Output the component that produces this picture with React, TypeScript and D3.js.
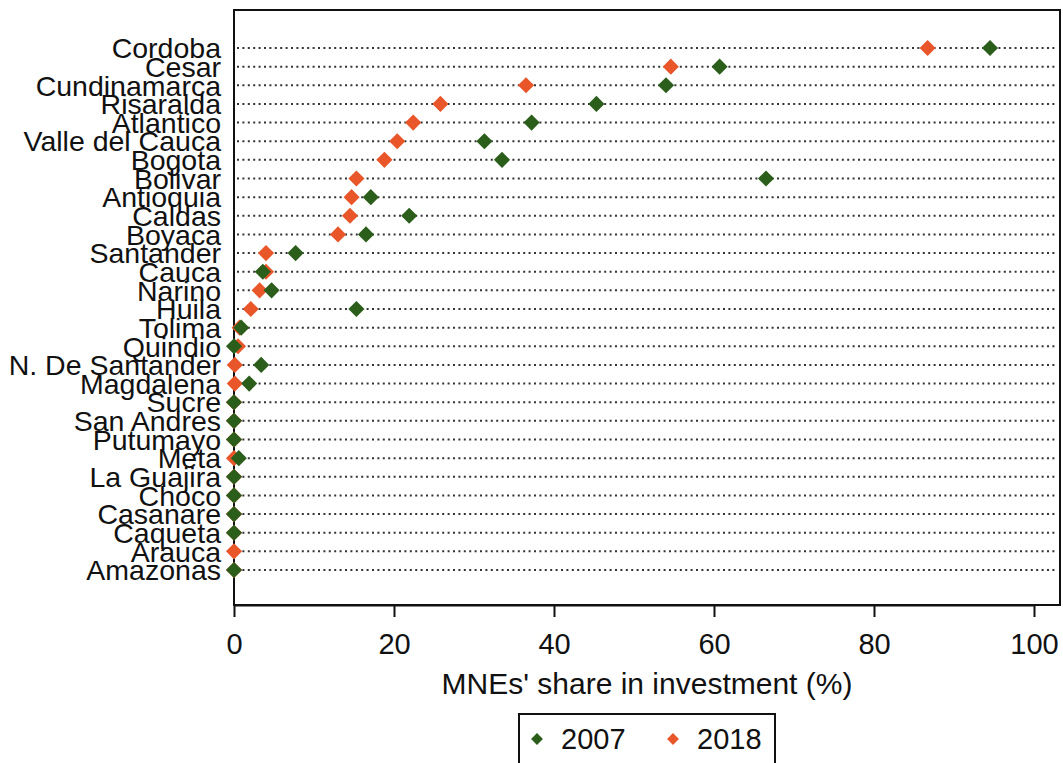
import React, { useEffect, useRef } from "react";
import * as d3 from "d3";

const regions = [
  "Cordoba", "Cesar", "Cundinamarca", "Risaralda", "Atlantico", "Valle del Cauca",
  "Bogota", "Bolivar", "Antioquia", "Caldas", "Boyaca", "Santander", "Cauca",
  "Narino", "Huila", "Tolima", "Quindio", "N. De Santander", "Magdalena", "Sucre",
  "San Andres", "Putumayo", "Meta", "La Guajira", "Choco", "Casanare", "Caqueta",
  "Arauca", "Amazonas",
];

const share2007 = [
  94.5, 60.7, 54.0, 45.3, 37.2, 31.3, 33.5, 66.5, 17.1, 21.9, 16.5, 7.7, 3.6,
  4.7, 15.3, 0.9, 0, 3.4, 1.9, 0, 0, 0, 0.6, 0, 0, 0, 0, null, 0,
];

const share2018 = [
  86.7, 54.6, 36.5, 25.8, 22.4, 20.4, 18.8, 15.3, 14.7, 14.5, 13.0, 4.0, 4.0,
  3.2, 2.1, 0.7, 0.5, 0.1, 0.1, 0, 0, 0, 0, 0, 0, 0, 0, 0, 0,
];

const xTicks = [0, 20, 40, 60, 80, 100];
const seriesNames = ["2007", "2018"];

const GREEN = "#2b5d1b";
const ORANGE = "#e8562a";
const FONT = "'Liberation Sans', Arial, sans-serif";

export default function App() {
  const ref = useRef<SVGSVGElement>(null);

  useEffect(() => {
    const svg = d3.select(ref.current);
    svg.selectAll("*").remove();

    const box = { left: 234, right: 1060, top: 10, bottom: 605 };

    const x = d3.scaleLinear().domain([0, 100]).range([234, 1034]);
    const y = d3.scalePoint<string>().domain(regions).range([48, 570]);

    const diamond = d3.symbol().type(d3.symbolSquare).size(130)();

    // dotted guide lines
    svg.append("g")
      .selectAll("line")
      .data(regions)
      .join("line")
      .attr("x1", box.left + 3)
      .attr("x2", box.right - 4)
      .attr("y1", d => y(d)!)
      .attr("y2", d => y(d)!)
      .attr("stroke", "#333")
      .attr("stroke-width", 2)
      .attr("stroke-dasharray", "2 3.4");

    // plot region border
    svg.append("rect")
      .attr("x", box.left)
      .attr("y", box.top)
      .attr("width", box.right - box.left)
      .attr("height", box.bottom - box.top)
      .attr("fill", "none")
      .attr("stroke", "#111")
      .attr("stroke-width", 2);

    // category labels
    svg.append("g")
      .selectAll("text")
      .data(regions)
      .join("text")
      .attr("x", 221)
      .attr("y", d => y(d)!)
      .attr("dy", "0.36em")
      .attr("text-anchor", "end")
      .attr("font-family", FONT)
      .attr("font-size", 28.5)
      .attr("fill", "#111")
      .text(d => d);

    // x axis
    const ax = svg.append("g")
      .attr("transform", `translate(0, ${box.bottom})`)
      .call(d3.axisBottom(x).tickValues(xTicks).tickSize(12).tickSizeOuter(0).tickPadding(16));
    ax.select(".domain").attr("stroke", "#111").attr("stroke-width", 2);
    ax.selectAll(".tick line").attr("stroke", "#111").attr("stroke-width", 2);
    ax.selectAll(".tick text")
      .attr("font-family", FONT)
      .attr("font-size", 29)
      .attr("fill", "#111");

    svg.append("text")
      .attr("x", (box.left + box.right) / 2)
      .attr("y", 694)
      .attr("text-anchor", "middle")
      .attr("font-family", FONT)
      .attr("font-size", 30)
      .attr("fill", "#111")
      .text("MNEs' share in investment (%)");

    // markers: 2018 underneath, 2007 on top
    const pts = (vals: (number | null)[]) =>
      regions.map((r, i) => ({ r, v: vals[i] })).filter(d => d.v !== null);

    svg.append("g")
      .selectAll("path")
      .data(pts(share2018))
      .join("path")
      .attr("d", diamond)
      .attr("transform", d => `translate(${x(d.v!)}, ${y(d.r)}) rotate(45)`)
      .attr("fill", ORANGE);

    svg.append("g")
      .selectAll("path")
      .data(pts(share2007))
      .join("path")
      .attr("d", diamond)
      .attr("transform", d => `translate(${x(d.v!)}, ${y(d.r)}) rotate(45)`)
      .attr("fill", GREEN);

    // legend
    const lg = svg.append("g");
    lg.append("rect")
      .attr("x", 519)
      .attr("y", 714)
      .attr("width", 256)
      .attr("height", 70)
      .attr("fill", "#fff")
      .attr("stroke", "#111")
      .attr("stroke-width", 2);
    const small = d3.symbol().type(d3.symbolSquare).size(70)();
    const colors = [GREEN, ORANGE];
    const lx = [537, 673];
    seriesNames.forEach((name, i) => {
      lg.append("path")
        .attr("d", small)
        .attr("transform", `translate(${lx[i]}, 739) rotate(45)`)
        .attr("fill", colors[i]);
      lg.append("text")
        .attr("x", lx[i] + 24)
        .attr("y", 749)
        .attr("font-family", FONT)
        .attr("font-size", 29)
        .attr("fill", "#111")
        .text(name);
    });
  }, []);

  return (
    <svg
      ref={ref}
      width={1063}
      height={763}
      style={{ position: "absolute", left: 0, top: 0, background: "#fff" }}
    />
  );
}
